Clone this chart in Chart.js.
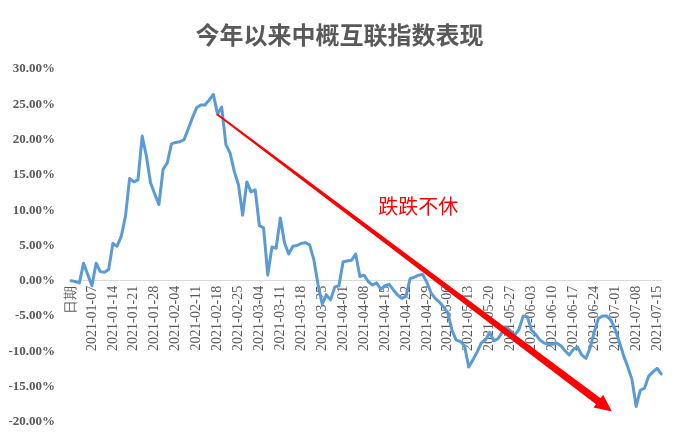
<!DOCTYPE html>
<html>
<head>
<meta charset="utf-8">
<script src="https://cdn.jsdelivr.net/npm/chart.js@4.4.0/dist/chart.umd.min.js"></script>
<style>
  html, body { margin: 0; padding: 0; background: #fff; }
  #wrap { width: 679px; height: 436px; }
</style>
</head>
<body>
<div id="wrap"><canvas id="chart"></canvas></div>
<script>
// 指数涨跌幅 (%), 从“日期”行的 0 开始, 每个工作日一个点
const indexReturn = [
  0, -0.1, -0.3, 2.5, 0.9, -0.7, 2.5, 1.3, 1.2, 1.6,
  5.3, 4.9, 6.3, 9.1, 14.5, 14.0, 14.3, 20.5, 17.7, 13.9,
  12.3, 10.8, 15.8, 16.7, 19.4, 19.6, 19.7, 20.0, 21.5, 23.1,
  24.5, 24.9, 24.9, 25.6, 26.4, 23.6, 24.6, 19.3, 18.1, 15.5,
  13.6, 9.3, 14.0, 12.6, 12.9, 7.8, 7.5, 0.8, 4.8, 4.6,
  8.9, 5.4, 3.8, 4.9, 5.0, 5.3, 5.4, 5.1, 3.0, -0.5,
  -3.3, -2.0, -2.7, -0.9, -0.7, 2.7, 2.8, 2.9, 3.8, 0.6,
  0.8, -0.1, -0.6, -0.3, -1.2, -0.7, -0.5, -1.3, -2.0, -2.5,
  -2.2, 0.3, 0.5, 0.8, 0.9, -0.2, -1.7, -2.5, -3.0, -3.7,
  -4.5, -7.0, -8.4, -8.6, -9.2, -12.2, -11.2, -10.1, -8.8, -8.4,
  -7.3, -8.5, -8.2, -7.3, -6.6, -7.1, -7.7, -6.9, -5.0, -5.1,
  -7.0, -7.6, -8.4, -8.8, -9.0, -9.0, -8.8, -9.2, -9.9, -10.5,
  -9.7, -9.4, -10.5, -11.0, -9.5, -7.2, -5.3, -5.0, -5.0, -5.6,
  -6.9, -8.7, -10.6, -12.2, -14.0, -17.8, -15.5, -15.2, -13.5, -12.9,
  -12.4, -13.2
];

// 坐标轴上显示的标签 (每 5 个点一个)
const tickLabels = [
  '日期', '2021-01-07', '2021-01-14', '2021-01-21', '2021-01-28', '2021-02-04',
  '2021-02-11', '2021-02-18', '2021-02-25', '2021-03-04', '2021-03-11',
  '2021-03-18', '2021-03-25', '2021-04-01', '2021-04-08', '2021-04-15',
  '2021-04-22', '2021-04-29', '2021-05-06', '2021-05-13', '2021-05-20',
  '2021-05-27', '2021-06-03', '2021-06-10', '2021-06-17', '2021-06-24',
  '2021-07-01', '2021-07-08', '2021-07-15'
];

const yTicks = [-20, -15, -10, -5, 0, 5, 10, 15, 20, 25, 30];

// 类别: “日期”后接 2021-01-01 起的工作日
const categories = ['日期'];
let d = new Date(Date.UTC(2021, 0, 1));
while (categories.length < indexReturn.length) {
  const wd = d.getUTCDay();
  if (wd !== 0 && wd !== 6) categories.push(d.toISOString().slice(0, 10));
  d.setUTCDate(d.getUTCDate() + 1);
}

const gray = '#595959';

// 标题, 红色箭头和“跌跌不休”
const arrowPlugin = {
  id: 'arrow',
  afterDatasetsDraw(chart) {
    const ctx = chart.ctx;
    const xs = chart.scales.x, ys = chart.scales.y;

    ctx.save();
    ctx.fillStyle = gray;
    ctx.font = 'bold 24px "Noto Sans CJK SC"';
    ctx.textAlign = 'center';
    ctx.textBaseline = 'middle';
    ctx.fillText('今年以来中概互联指数表现', chart.width / 2, 35);

    const x0 = xs.getPixelForValue(34.9), y0 = ys.getPixelForValue(23.6);
    const x1 = xs.getPixelForValue(129.2), y1 = ys.getPixelForValue(-18.5);
    const len = Math.hypot(x1 - x0, y1 - y0);
    const ux = (x1 - x0) / len, uy = (y1 - y0) / len;
    const nx = -uy, ny = ux;
    const headLen = 17, headW = 8, w0 = 0.9, w1 = 3.8;
    const bx = x1 - ux * headLen, by = y1 - uy * headLen;
    ctx.fillStyle = '#FF0000';
    ctx.beginPath();
    ctx.moveTo(x0 + nx * w0, y0 + ny * w0);
    ctx.lineTo(bx + nx * w1, by + ny * w1);
    ctx.lineTo(bx + nx * headW, by + ny * headW);
    ctx.lineTo(x1, y1);
    ctx.lineTo(bx - nx * headW, by - ny * headW);
    ctx.lineTo(bx - nx * w1, by - ny * w1);
    ctx.lineTo(x0 - nx * w0, y0 - ny * w0);
    ctx.closePath();
    ctx.fill();

    ctx.font = '20px "Noto Sans CJK SC"';
    ctx.textAlign = 'left';
    ctx.fillText('跌跌不休', xs.getPixelForValue(73.4), ys.getPixelForValue(10.5));
    ctx.restore();
  }
};

new Chart(document.getElementById('chart'), {
  type: 'line',
  data: {
    labels: categories,
    datasets: [{
      data: indexReturn,
      borderColor: '#5B9BD5',
      borderWidth: 3,
      borderJoinStyle: 'round',
      borderCapStyle: 'round',
      pointRadius: 0,
      tension: 0,
      fill: false
    }]
  },
  options: {
    responsive: true,
    maintainAspectRatio: false,
    animation: false,
    layout: { padding: { left: 0, right: 13, bottom: 14, top: 69 } },
    plugins: {
      legend: { display: false },
      tooltip: { enabled: false },
      title: { display: false }
    },
    scales: {
      x: {
        type: 'category',
        position: { y: 0 },
        offset: false,
        grid: { display: false, drawTicks: false },
        border: { display: true, color: '#D9D9D9', width: 1 },
        ticks: {
          autoSkip: false,
          maxRotation: 90,
          minRotation: 90,
          padding: 5,
          color: gray,
          font: { family: '"Liberation Serif"', size: 14 },
          callback: (v, i) => (i % 5 === 0 ? tickLabels[i / 5] : null)
        }
      },
      y: {
        min: -20,
        max: 30,
        afterFit: s => { s.width = 71; },
        afterBuildTicks: s => { s.ticks = yTicks.map(v => ({ value: v })); },
        grid: { display: false, drawTicks: true, tickLength: 13 },
        border: { display: false },
        ticks: {
          padding: 3,
          color: gray,
          font: { family: '"Liberation Serif"', size: 13, weight: 'bold' },
          callback: v => v.toFixed(2) + '%'
        }
      }
    }
  },
  plugins: [arrowPlugin]
});
</script>
</body>
</html>
